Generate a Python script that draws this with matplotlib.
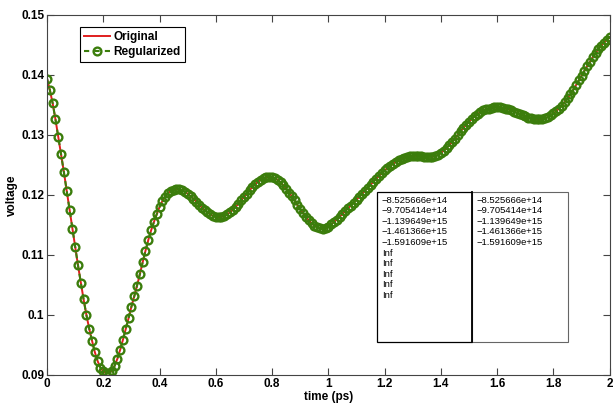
import numpy as np
import matplotlib
matplotlib.use("Agg")
import matplotlib.pyplot as plt
from matplotlib.patches import Rectangle

plt.rcParams['font.family'] = ['Liberation Sans', 'DejaVu Sans']

# voltage, one sample every 0.01 ps from 0 to 2 ps
voltage_original = [
    0.1394, 0.1375, 0.1353, 0.1326, 0.1297, 0.1268, 0.1238, 0.1207, 0.1175, 0.1144,
    0.1113, 0.1083, 0.1054, 0.1026, 0.1000, 0.0977, 0.0957, 0.0938, 0.0923, 0.0912,
    0.0906, 0.0903, 0.0903, 0.0907, 0.0915, 0.0927, 0.0942, 0.0959, 0.0977, 0.0995,
    0.1014, 0.1031, 0.1049, 0.1068, 0.1088, 0.1107, 0.1125, 0.1141, 0.1155, 0.1168,
    0.1180, 0.1190, 0.1197, 0.1203, 0.1207, 0.1209, 0.1210, 0.12095, 0.1208, 0.12055,
    0.1202, 0.1198, 0.1194, 0.1189, 0.1184, 0.1179, 0.1175, 0.1171, 0.1168, 0.1165,
    0.11635, 0.1163, 0.11635, 0.1165, 0.11675, 0.1171, 0.1175, 0.1180, 0.1185, 0.1191,
    0.11965, 0.1202, 0.1208, 0.1213, 0.1218, 0.1222, 0.12255, 0.1228, 0.12295, 0.1230,
    0.12295, 0.1228, 0.1225, 0.1221, 0.1216, 0.12105, 0.1204, 0.1198, 0.1191, 0.1183,
    0.1176, 0.1170, 0.11635, 0.1158, 0.1153, 0.1149, 0.1146, 0.11445, 0.1144, 0.1145,
    0.1147, 0.1151, 0.1155, 0.1159, 0.1164, 0.1168, 0.1173, 0.1178, 0.1182, 0.1187,
    0.1192, 0.1197, 0.1202, 0.1207, 0.1212, 0.1217, 0.1222, 0.1227, 0.1232, 0.1236,
    0.1241, 0.1245, 0.1249, 0.1252, 0.1255, 0.1258, 0.1260, 0.1262, 0.1264, 0.1265,
    0.1265, 0.1265, 0.1265, 0.1265, 0.1264, 0.1264, 0.1264, 0.1264, 0.1265, 0.1267,
    0.1270, 0.1274, 0.1278, 0.1283, 0.1288, 0.1294, 0.1300, 0.1306, 0.1312, 0.1317,
    0.1322, 0.1327, 0.1331, 0.1335, 0.1338, 0.1341, 0.1343, 0.1344, 0.1345, 0.1346,
    0.1346, 0.1346, 0.1345, 0.1344, 0.1343, 0.1341, 0.1339, 0.1337, 0.1335, 0.1333,
    0.1331, 0.1329, 0.1328, 0.1327, 0.1326, 0.1326, 0.1327, 0.1328, 0.1330, 0.1333,
    0.1336, 0.1340, 0.1344, 0.1349, 0.1355, 0.1361, 0.1368, 0.1375, 0.1383, 0.1391,
    0.1399, 0.1407, 0.1415, 0.1422, 0.1430, 0.1437, 0.1443, 0.1449, 0.1454, 0.1459,
    0.1463,
]
# the regularized curve sits right on top of the original one
voltage_regularized = list(voltage_original)

# sampling grid (uniform, 0.01 ps)
time_ps = np.linspace(0.0, 2.0, len(voltage_original))

x_ticks = [0, 0.2, 0.4, 0.6, 0.8, 1, 1.2, 1.4, 1.6, 1.8, 2]
x_tick_labels = ['0', '0.2', '0.4', '0.6', '0.8', '1', '1.2', '1.4', '1.6', '1.8', '2']
y_ticks = [0.09, 0.1, 0.11, 0.12, 0.13, 0.14, 0.15]
y_tick_labels = ['0.09', '0.1', '0.11', '0.12', '0.13', '0.14', '0.15']

# text box contents
col_left = ['\u22128.525666e+14', '\u22129.705414e+14', '\u22121.139649e+15',
            '\u22121.461366e+15', '\u22121.591609e+15', 'Inf', 'Inf', 'Inf', 'Inf', 'Inf']
col_right = ['\u22128.525666e+14', '\u22129.705414e+14', '\u22121.139649e+15',
             '\u22121.461366e+15', '\u22121.591609e+15']

red = '#e01e1e'
green = '#3b7d0c'
edge = '#444444'

fig = plt.figure(figsize=(6.13, 4.05), dpi=100)
ax = fig.add_axes([0.0767, 0.0741, 0.918, 0.889])

ax.plot(time_ps, voltage_original, color=red, lw=1.4, label='Original')
ax.plot(time_ps, voltage_regularized, color=green, lw=1.5, ls=(0, (2.5, 2.5)),
        marker='o', ms=5.6, mew=1.7, mfc='none', mec=green, label='Regularized')

ax.set_xlim(0, 2)
ax.set_ylim(0.09, 0.15)
ax.set_xticks(x_ticks)
ax.set_xticklabels(x_tick_labels)
ax.set_yticks(y_ticks)
ax.set_yticklabels(y_tick_labels)
ax.tick_params(direction='in', length=5, width=0.8, color=edge, top=True, right=True,
               labelsize=8.5, pad=2)
for lab in ax.get_xticklabels() + ax.get_yticklabels():
    lab.set_fontweight('bold')
for sp in ax.spines.values():
    sp.set_color(edge)
    sp.set_linewidth(0.8)

ax.set_xlabel('time (ps)', fontsize=8.5, fontweight='bold', labelpad=1)
ax.set_ylabel('voltage', fontsize=8.5, fontweight='bold', labelpad=2)

leg = ax.legend(loc='upper left', bbox_to_anchor=(0.058, 0.967), borderaxespad=0,
                fancybox=False, edgecolor='black', framealpha=1, borderpad=0.35,
                handlelength=2.2, handletextpad=0.3, labelspacing=0.25,
                prop={'weight': 'bold', 'size': 8.5})
leg.get_frame().set_linewidth(0.8)

# two-cell text box, placed in axes fraction
x0, xm, x1 = 0.587, 0.755, 0.925
y0, y1 = 0.092, 0.508
ax.add_patch(Rectangle((x0, y0), xm - x0, y1 - y0, transform=ax.transAxes,
                       fill=True, fc='white', ec='black', lw=0.9, zorder=5))
ax.add_patch(Rectangle((xm, y0), x1 - xm, y1 - y0, transform=ax.transAxes,
                       fill=True, fc='white', ec='#666666', lw=0.8, zorder=5))
ax.plot([xm, xm], [y0, y1], transform=ax.transAxes, color='black', lw=1.3, zorder=6)

line_step = 0.0295
for i, s in enumerate(col_left):
    ax.text(x0 + 0.008, y1 - 0.022 - i * line_step, s, transform=ax.transAxes,
            fontsize=6.8, va='center', ha='left', zorder=7)
for i, s in enumerate(col_right):
    ax.text(xm + 0.008, y1 - 0.022 - i * line_step, s, transform=ax.transAxes,
            fontsize=6.8, va='center', ha='left', zorder=7)

fig.savefig('out.png', dpi=100)
